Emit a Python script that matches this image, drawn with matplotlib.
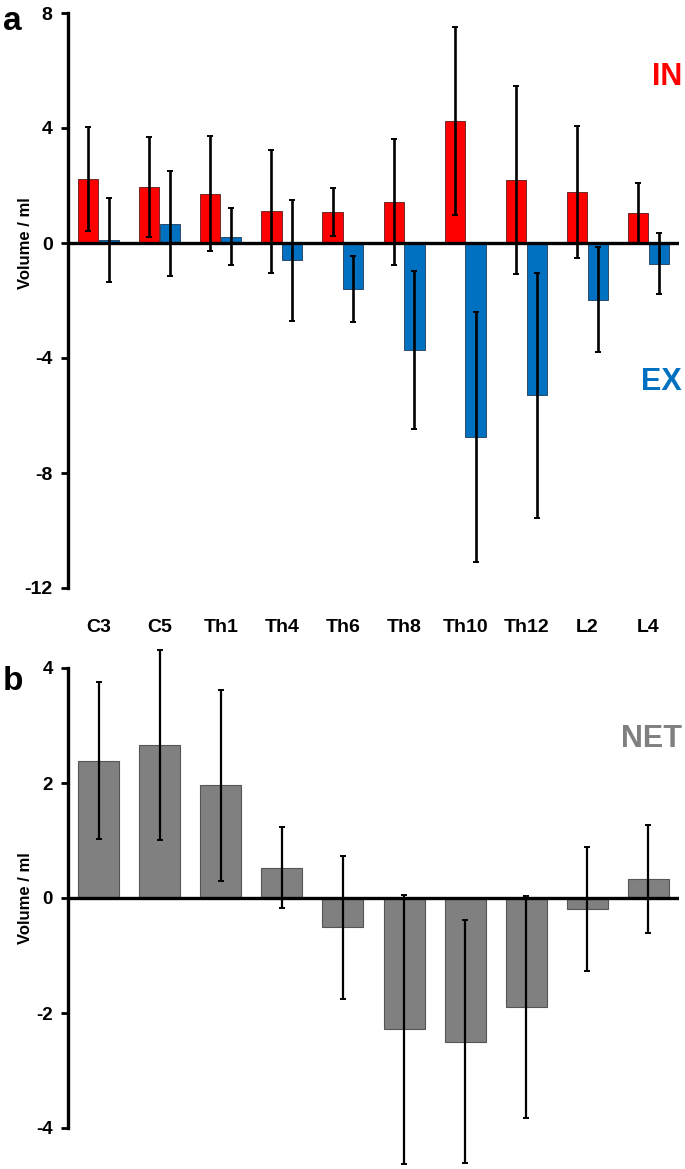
import matplotlib
matplotlib.use("Agg")
import matplotlib.pyplot as plt
import matplotlib.transforms as mtransforms
import numpy as np

plt.rcParams['font.family'] = ['Liberation Sans', 'DejaVu Sans']
plt.rcParams['font.weight'] = 'bold'

categories = ["C3", "C5", "Th1", "Th4", "Th6", "Th8", "Th10", "Th12", "L2", "L4"]

in_vals = [2.23, 1.95, 1.72, 1.10, 1.08, 1.43, 4.25, 2.20, 1.78, 1.04]
in_err = [1.82, 1.75, 2.00, 2.14, 0.84, 2.20, 3.28, 3.27, 2.30, 1.05]

ex_vals = [0.10, 0.67, 0.22, -0.60, -1.60, -3.72, -6.75, -5.30, -1.97, -0.72]
ex_err = [1.45, 1.83, 1.00, 2.10, 1.16, 2.75, 4.35, 4.25, 1.83, 1.07]

net_vals = [2.39, 2.66, 1.96, 0.53, -0.51, -2.28, -2.50, -1.89, -0.19, 0.33]
net_err = [1.36, 1.65, 1.66, 0.71, 1.24, 2.34, 2.11, 1.93, 1.08, 0.94]

RED = '#FF0000'
BLUE = '#0070C0'
GREY = '#808080'

W, H = 685, 1169
fig = plt.figure(figsize=(W / 100, H / 100), dpi=100)

def frac(l, t, r, b):
    return [l / W, 1 - b / H, (r - l) / W, (b - t) / H]

axa = fig.add_axes(frac(68, 13, 679, 588))
axb = fig.add_axes(frac(68, 668, 679, 1128))

x = np.arange(len(categories))

def style(ax, ylim, ticks, fs):
    for s in ['top', 'right', 'bottom']:
        ax.spines[s].set_visible(False)
    ax.spines['left'].set_linewidth(2.4)
    ax.set_xlim(-0.5, len(categories) - 0.5)
    ax.set_ylim(*ylim)
    ax.set_yticks(ticks)
    ax.set_yticklabels([str(t) for t in ticks])
    ax.tick_params(axis='y', direction='out', length=5, width=2.0, pad=6,
                   labelsize=fs)
    for lab in ax.get_yticklabels():
        lab.set_fontweight('bold')
    ax.set_xticks([])
    ax.axhline(0, color='black', lw=2.4, zorder=5)
    ax.set_ylabel('Volume / ml', fontsize=12, fontweight='bold')
    ax.patch.set_visible(False)

def errs(ax, xs, vals, e, lw, cs):
    c = ax.errorbar(xs, vals, yerr=e, fmt='none', ecolor='black', elinewidth=lw,
                    capsize=cs, capthick=1.4, zorder=6)
    for art in c.lines[1]:
        art.set_clip_on(False)
    for art in c.lines[2]:
        art.set_clip_on(False)

bw = 0.33
off = 0.17
axa.bar(x - off, in_vals, width=bw, color=RED, edgecolor='#5a1a1a', linewidth=0.6, zorder=3)
axa.bar(x + off, ex_vals, width=bw, color=BLUE, edgecolor='#1f3a55', linewidth=0.6, zorder=3)
errs(axa, x - off, in_vals, in_err, 1.9, 2.5)
errs(axa, x + off, ex_vals, ex_err, 1.9, 2.5)
style(axa, (-12, 8), [-12, -8, -4, 0, 4, 8], 14)
axa.yaxis.set_label_coords(-0.057, 0.6)

axb.bar(x, net_vals, width=0.67, color=GREY, edgecolor='#555555', linewidth=0.8, zorder=3)
errs(axb, x, net_vals, net_err, 1.6, 2.5)
style(axb, (-4, 4), [-4, -2, 0, 2, 4], 13.5)
axb.yaxis.set_label_coords(-0.057, 0.5)

# category labels between the panels
trans = mtransforms.blended_transform_factory(axa.transData, fig.transFigure)
for xi, c in zip(x, categories):
    fig.text(xi, 1 - 627 / H, c, transform=trans, ha='center', va='center',
             fontsize=14, fontweight='bold')

fig.text(682 / W, 1 - 77 / H, 'IN', color=RED, ha='right', va='center',
         fontsize=22, fontweight='bold')
fig.text(682 / W, 1 - 382 / H, 'EX', color=BLUE, ha='right', va='center',
         fontsize=22, fontweight='bold')
fig.text(682 / W, 1 - 739 / H, 'NET', color=GREY, ha='right', va='center',
         fontsize=22, fontweight='bold')

fig.text(3 / W, 1 - 22 / H, 'a', ha='left', va='center', fontsize=24, fontweight='bold')
fig.text(3 / W, 1 - 681 / H, 'b', ha='left', va='center', fontsize=24, fontweight='bold')

fig.savefig('out.png', dpi=100)
